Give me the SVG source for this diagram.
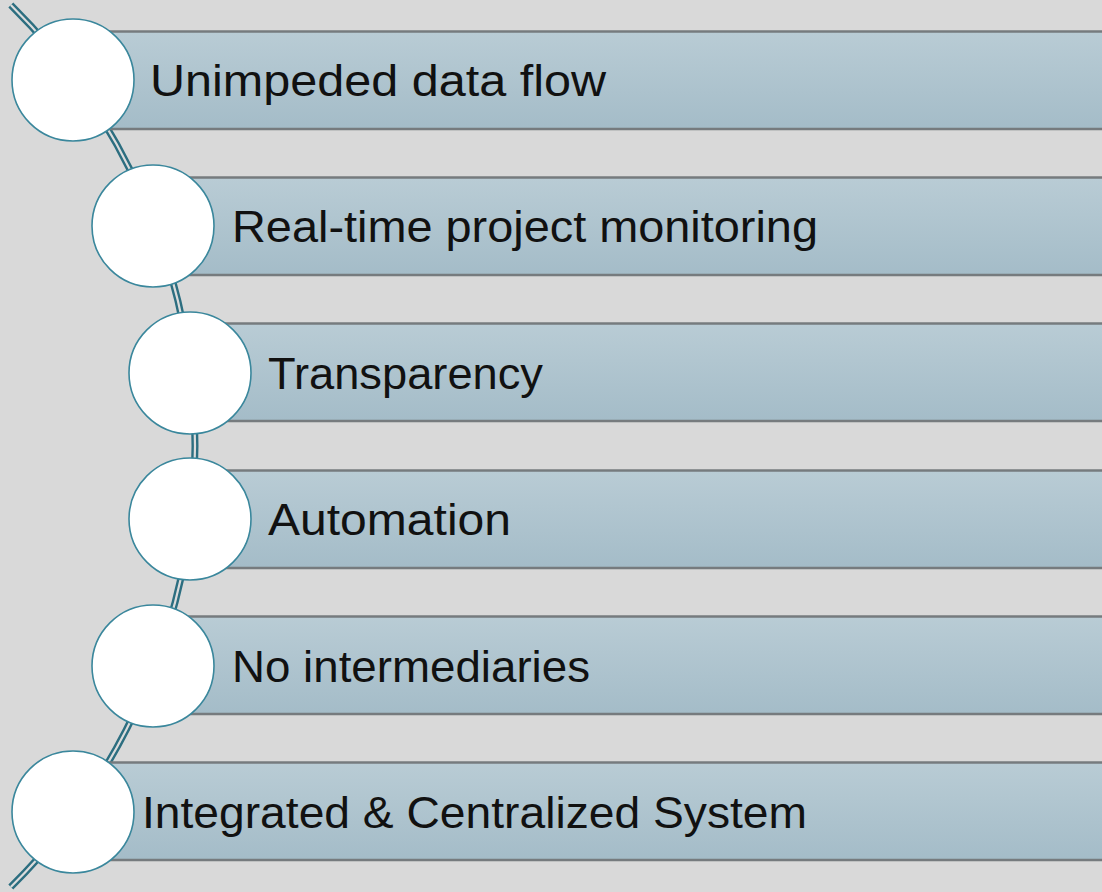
<svg xmlns="http://www.w3.org/2000/svg" width="1102" height="892" viewBox="0 0 1102 892">
<defs>
<linearGradient id="barg" x1="0" y1="0" x2="0" y2="1">
<stop offset="0" stop-color="#b9ccd5"/>
<stop offset="1" stop-color="#a4bcc8"/>
</linearGradient>
<style>
.bar{fill:url(#barg);}
.edge{stroke:#767b7e;stroke-width:2.5;fill:none;}
.node circle{fill:#ffffff;stroke:#3a879c;stroke-width:1.6;}
.lbl{font-family:"Liberation Sans","DejaVu Sans",sans-serif;font-size:44px;fill:#111111;}
.arcO{fill:none;stroke:#2c6e80;stroke-width:7;stroke-linecap:butt;}
.arcI{fill:none;stroke:#dcdcdc;stroke-width:2.2;stroke-linecap:butt;}
</style>
</defs>
<rect x="0" y="0" width="1102" height="892" fill="#d9d9d9"/>
<g id="connectors">
<path class="arcO" d="M 10.8 5 A 620 620 0 0 1 10.8 887"/>
<path class="arcI" d="M 10.8 5 A 620 620 0 0 1 10.8 887"/>
</g>
<g id="node1" class="node">
<rect class="bar" x="73" y="31" width="1040" height="98"/>
<line class="edge" x1="73" y1="31.5" x2="1102" y2="31.5"/>
<line class="edge" x1="73" y1="129" x2="1102" y2="129"/>
<circle cx="73" cy="80" r="61"/>
<text class="lbl" x="150" y="96" textLength="456" lengthAdjust="spacingAndGlyphs">Unimpeded data flow</text>
</g>
<g id="node2" class="node">
<rect class="bar" x="153" y="177" width="960" height="98"/>
<line class="edge" x1="153" y1="177.5" x2="1102" y2="177.5"/>
<line class="edge" x1="153" y1="275" x2="1102" y2="275"/>
<circle cx="153" cy="226" r="61"/>
<text class="lbl" x="232" y="242" textLength="586" lengthAdjust="spacingAndGlyphs">Real-time project monitoring</text>
</g>
<g id="node3" class="node">
<rect class="bar" x="190" y="323" width="920" height="98"/>
<line class="edge" x1="190" y1="323.5" x2="1102" y2="323.5"/>
<line class="edge" x1="190" y1="421" x2="1102" y2="421"/>
<circle cx="190" cy="373" r="61"/>
<text class="lbl" x="268" y="389" textLength="275" lengthAdjust="spacingAndGlyphs">Transparency</text>
</g>
<g id="node4" class="node">
<rect class="bar" x="190" y="470" width="920" height="98"/>
<line class="edge" x1="190" y1="470.5" x2="1102" y2="470.5"/>
<line class="edge" x1="190" y1="568" x2="1102" y2="568"/>
<circle cx="190" cy="519" r="61"/>
<text class="lbl" x="268" y="535" textLength="243" lengthAdjust="spacingAndGlyphs">Automation</text>
</g>
<g id="node5" class="node">
<rect class="bar" x="153" y="616" width="960" height="98"/>
<line class="edge" x1="153" y1="616.5" x2="1102" y2="616.5"/>
<line class="edge" x1="153" y1="714" x2="1102" y2="714"/>
<circle cx="153" cy="666" r="61"/>
<text class="lbl" x="232" y="682" textLength="358" lengthAdjust="spacingAndGlyphs">No intermediaries</text>
</g>
<g id="node6" class="node">
<rect class="bar" x="73" y="762" width="1040" height="98"/>
<line class="edge" x1="73" y1="762.5" x2="1102" y2="762.5"/>
<line class="edge" x1="73" y1="860" x2="1102" y2="860"/>
<circle cx="73" cy="812" r="61"/>
<text class="lbl" x="142" y="828" textLength="665" lengthAdjust="spacingAndGlyphs">Integrated &amp; Centralized System</text>
</g>
</svg>
